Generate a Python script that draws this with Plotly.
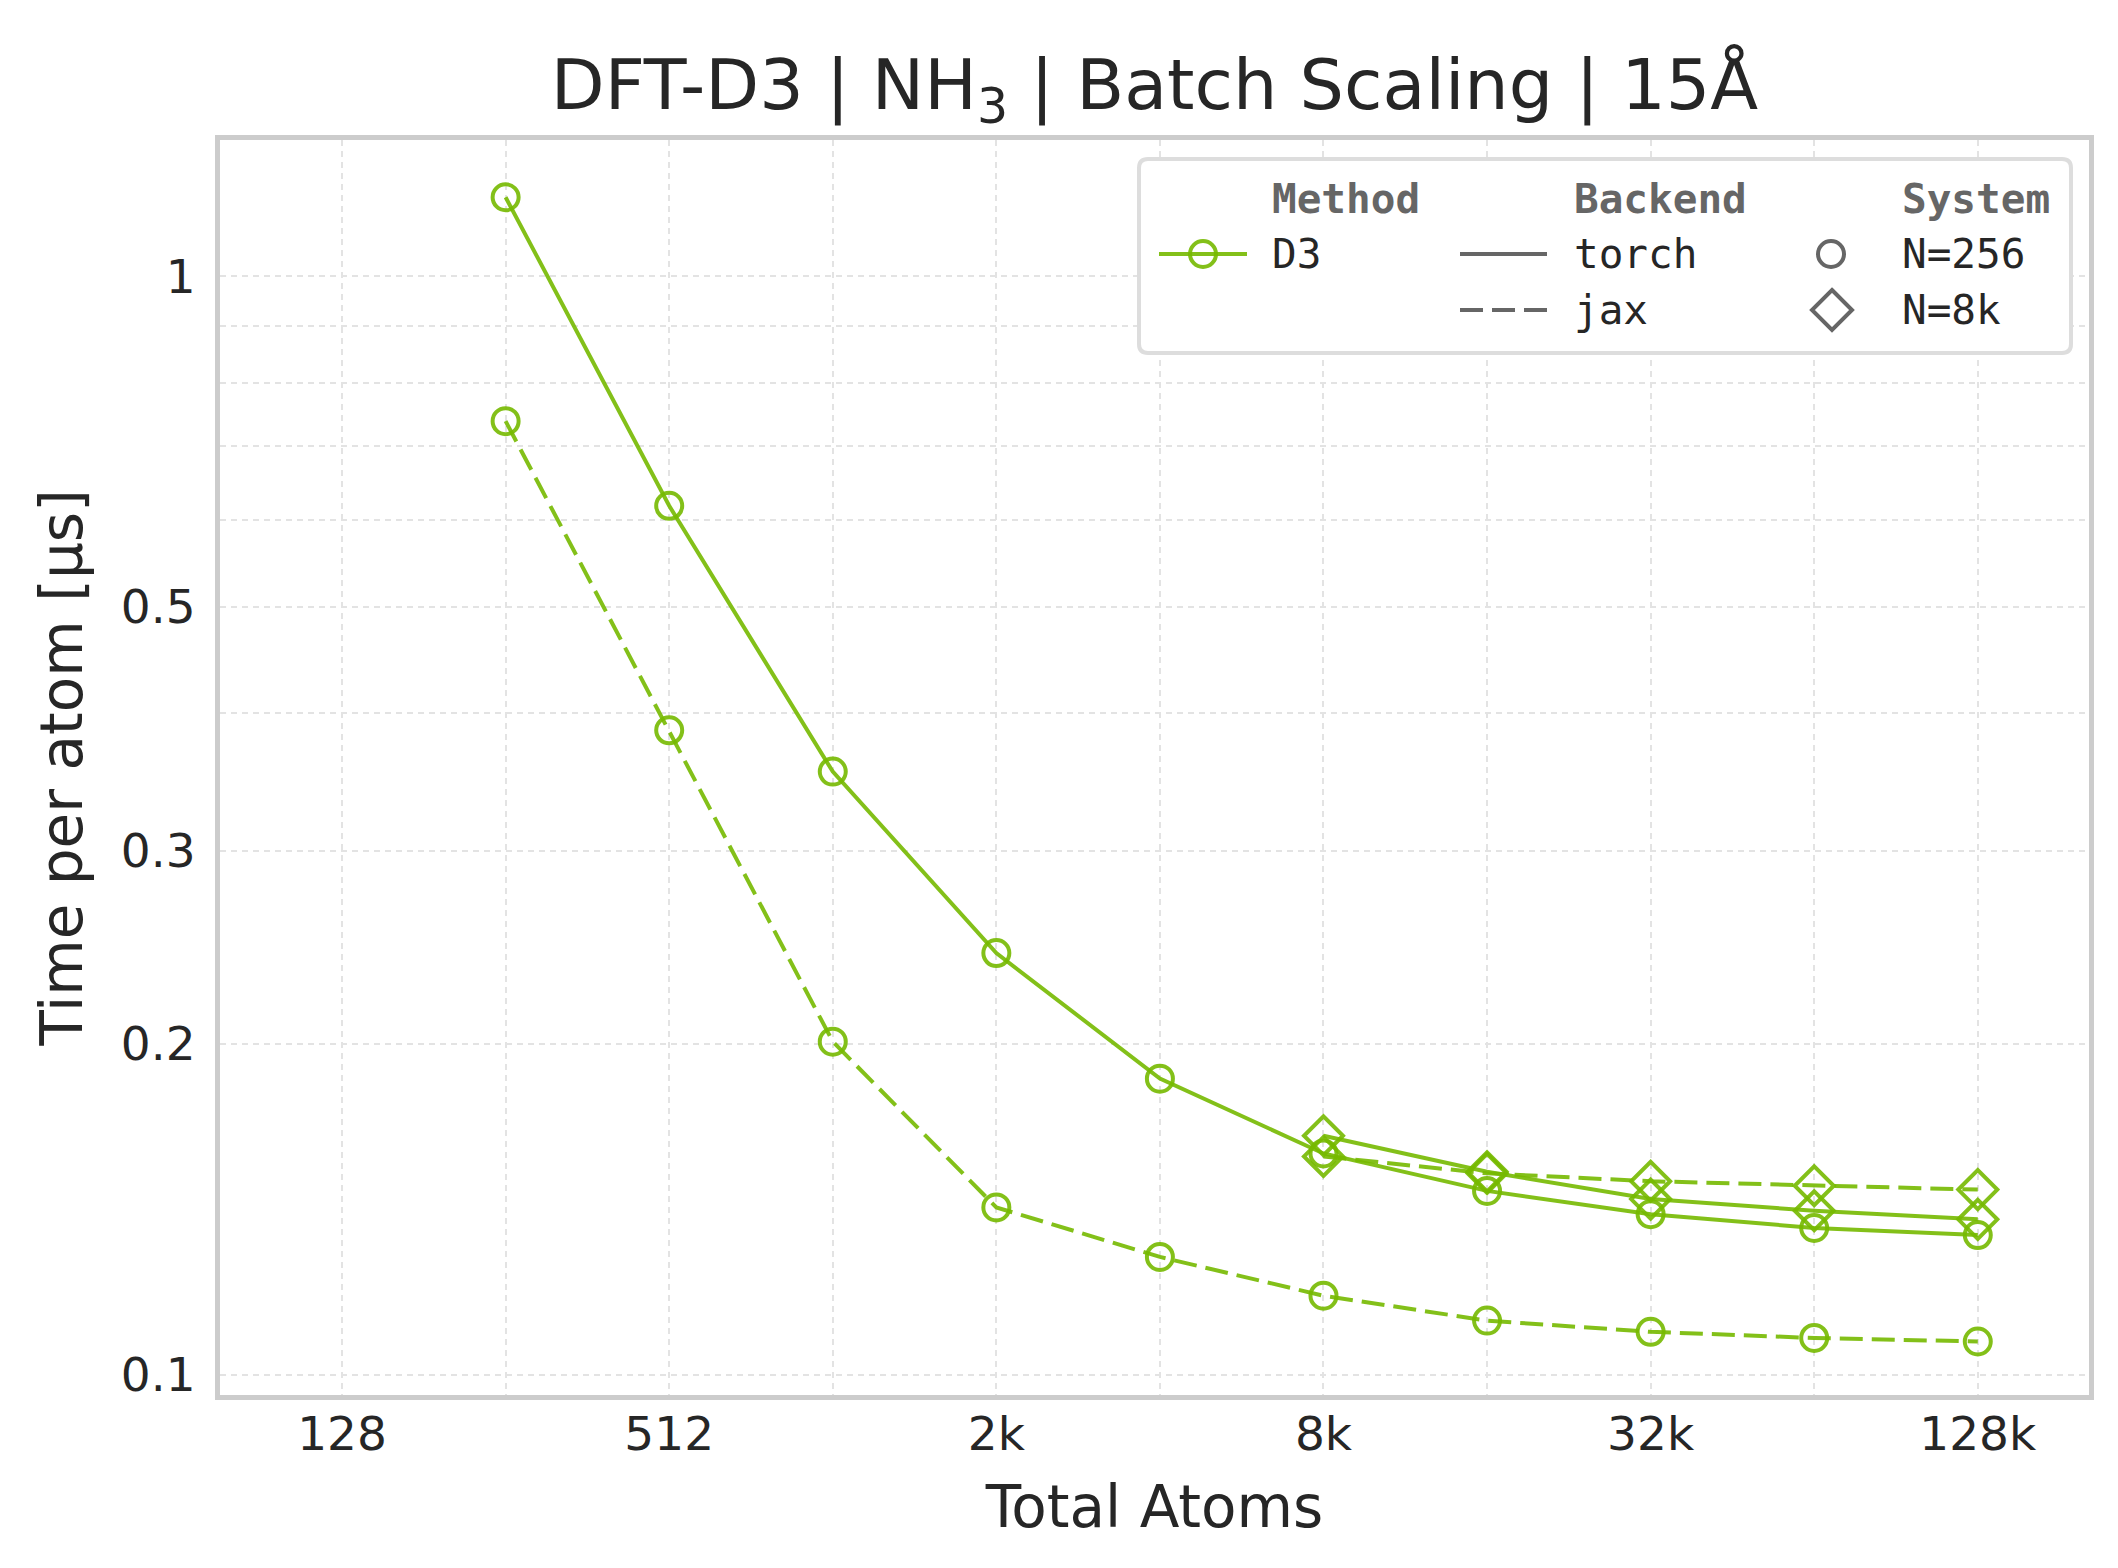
import plotly.graph_objects as go

# Total atoms in the batch
atoms_256 = [256, 512, 1024, 2048, 4096, 8192, 16384, 32768, 65536, 131072]
atoms_8k = [8192, 16384, 32768, 65536, 131072]

# Time per atom [us]
torch_256 = [1.18, 0.618, 0.354, 0.242, 0.186, 0.159, 0.147, 0.140, 0.136, 0.134]
jax_256 = [0.738, 0.386, 0.201, 0.142, 0.128, 0.118, 0.112, 0.1094, 0.108, 0.1072]
torch_8k = [0.165, 0.153, 0.1445, 0.141, 0.1385]
jax_8k = [0.158, 0.1525, 0.150, 0.1486, 0.1474]

x_tickvals = [128, 256, 512, 1024, 2048, 4096, 8192, 16384, 32768, 65536, 131072]
x_ticktext = ['128', '', '512', '', '2k', '', '8k', '', '32k', '', '128k']
y_tickvals = [0.1, 0.2, 0.3, 0.4, 0.5, 0.6, 0.7, 0.8, 0.9, 1.0]
y_ticktext = ['0.1', '0.2', '0.3', '', '0.5', '', '', '', '', '1']

GREEN = 'rgba(118,185,0,0.9)'
GREY = '#666666'
TEXT = '#262626'
FONT = 'DejaVu Sans'
MONO = 'DejaVu Sans Mono'

W, H = 2118, 1568
L, R, T, B = 212, 2081, 132, 1387


def px(x):
    return (x - L) / (R - L)


def py(y):
    return (B - y) / (B - T)


fig = go.Figure()

series = [
    (atoms_256, torch_256, 'solid', 'circle-open', 26, 'torch N=256'),
    (atoms_256, jax_256, '23px,9px', 'circle-open', 26, 'jax N=256'),
    (atoms_8k, torch_8k, 'solid', 'diamond-open', 30, 'torch N=8k'),
    (atoms_8k, jax_8k, '23px,9px', 'diamond-open', 30, 'jax N=8k'),
]
for xs, ys, dash, sym, size, name in series:
    fig.add_trace(go.Scatter(
        x=xs, y=ys, mode='lines+markers', name=name, showlegend=False,
        line=dict(color=GREEN, width=4, dash=dash),
        marker=dict(symbol=sym, size=size, color=GREEN, line=dict(width=4, color=GREEN)),
    ))

# custom three-column legend
shapes = []
cx, cy, hw, hh, r = px(1597), py(248), 466, 97, 9
box = (f'M {-hw + r},{hh} L {hw - r},{hh} Q {hw},{hh} {hw},{hh - r} '
       f'L {hw},{-hh + r} Q {hw},{-hh} {hw - r},{-hh} L {-hw + r},{-hh} '
       f'Q {-hw},{-hh} {-hw},{-hh + r} L {-hw},{hh - r} Q {-hw},{hh} {-hw + r},{hh} Z')
shapes.append(dict(type='path', xref='paper', yref='paper', xsizemode='pixel', ysizemode='pixel',
                   xanchor=cx, yanchor=cy, path=box, fillcolor='white',
                   line=dict(color='#dddddd', width=4), layer='above'))
row1, row2 = 246, 302
shapes.append(dict(type='line', xref='paper', yref='paper', x0=px(1151), x1=px(1239),
                   y0=py(row1), y1=py(row1), line=dict(color=GREEN, width=4), layer='above'))
shapes.append(dict(type='circle', xref='paper', yref='paper', xsizemode='pixel', ysizemode='pixel',
                   xanchor=px(1195), yanchor=py(row1), x0=-13, x1=13, y0=-13, y1=13,
                   line=dict(color=GREEN, width=4), fillcolor='rgba(0,0,0,0)', layer='above'))
shapes.append(dict(type='line', xref='paper', yref='paper', x0=px(1452), x1=px(1539),
                   y0=py(row1), y1=py(row1), line=dict(color=GREY, width=4), layer='above'))
shapes.append(dict(type='line', xref='paper', yref='paper', x0=px(1452), x1=px(1539),
                   y0=py(row2), y1=py(row2), line=dict(color=GREY, width=4, dash='23px,9px'),
                   layer='above'))
shapes.append(dict(type='circle', xref='paper', yref='paper', xsizemode='pixel', ysizemode='pixel',
                   xanchor=px(1823), yanchor=py(row1), x0=-13, x1=13, y0=-13, y1=13,
                   line=dict(color=GREY, width=4), fillcolor='rgba(0,0,0,0)', layer='above'))
shapes.append(dict(type='path', xref='paper', yref='paper', xsizemode='pixel', ysizemode='pixel',
                   xanchor=px(1824), yanchor=py(row2), path='M 0,20 L 20,0 L 0,-20 L -20,0 Z',
                   line=dict(color=GREY, width=4), fillcolor='rgba(0,0,0,0)', layer='above'))

annotations = []
for text, x, y in [('<b>Method</b>', 1262, 191), ('<b>Backend</b>', 1564, 191),
                   ('<b>System</b>', 1892, 191)]:
    annotations.append(dict(text=text, x=px(x), y=py(y), xref='paper', yref='paper',
                            xanchor='left', yanchor='middle', showarrow=False,
                            font=dict(family=MONO, size=41, color=GREY)))
for text, x, y in [('D3', 1262, row1), ('torch', 1564, row1), ('jax', 1564, row2),
                   ('N=256', 1892, row1), ('N=8k', 1892, row2)]:
    annotations.append(dict(text=text, x=px(x), y=py(y), xref='paper', yref='paper',
                            xanchor='left', yanchor='middle', showarrow=False,
                            font=dict(family=MONO, size=41, color=TEXT)))

fig.update_layout(
    width=W, height=H,
    margin=dict(l=L, r=W - R, t=T, b=H - B),
    paper_bgcolor='white', plot_bgcolor='white',
    font=dict(family=FONT, color=TEXT),
    title=dict(text='DFT-D3 | NH<sub>3</sub> | Batch Scaling | 15Å', x=0.5, xref='paper',
               y=1 - 76 / H, yref='container', xanchor='center', yanchor='middle',
               font=dict(size=70, color=TEXT)),
    shapes=shapes, annotations=annotations,
)
fig.update_xaxes(
    type='log', range=[1.8826, 5.3222],
    tickvals=x_tickvals, ticktext=x_ticktext, tickfont=dict(size=47),
    ticks='', ticklabelstandoff=-6,
    showgrid=True, gridcolor='#e3e3e3', gridwidth=1.5, griddash='6px,5px',
    showline=True, linecolor='#cccccc', linewidth=5, mirror=True, zeroline=False,
    title=dict(text='Total Atoms', font=dict(size=58), standoff=27),
)
fig.update_yaxes(
    type='log', range=[-1.0185, 0.124],
    tickvals=y_tickvals, ticktext=y_ticktext, tickfont=dict(size=47),
    ticks='', ticklabelstandoff=10,
    showgrid=True, gridcolor='#e3e3e3', gridwidth=1.5, griddash='6px,5px',
    showline=True, linecolor='#cccccc', linewidth=5, mirror=True, zeroline=False,
    title=dict(text='Time per atom [µs]', font=dict(size=58), standoff=21),
)

fig.write_html('out.html')
